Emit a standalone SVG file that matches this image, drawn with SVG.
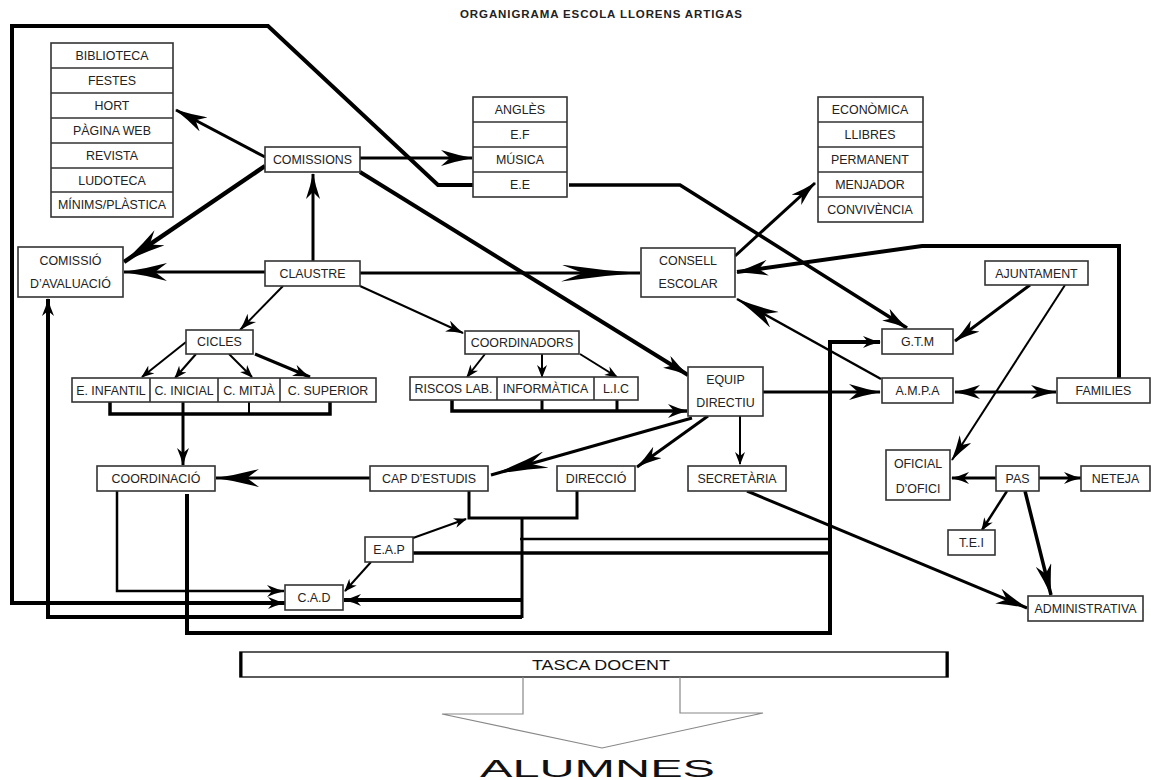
<svg xmlns="http://www.w3.org/2000/svg" width="1151" height="780" viewBox="0 0 1151 780">
<style>
.b{fill:#fff;stroke:#333;stroke-width:1.6}
.t{font-family:"Liberation Sans",Arial,sans-serif;font-size:12.4px;fill:#222;text-anchor:middle}
.c{fill:none;stroke:#000;stroke-linejoin:miter}
.w2{stroke-width:2}.w25{stroke-width:2.5}.w3{stroke-width:3}.w35{stroke-width:3.5}.w4{stroke-width:4}.w45{stroke-width:4.5}
</style>
<defs>
<marker id="m80" markerUnits="userSpaceOnUse" markerWidth="80" markerHeight="17" refX="79" refY="8.5" orient="auto"><path d="M0,0 Q40,6 80,8.5 Q40,11 0,17 L22,8.5 z"/></marker>
<marker id="m58" markerUnits="userSpaceOnUse" markerWidth="58" markerHeight="17" refX="57" refY="8.5" orient="auto"><path d="M0,0 Q29,6 58,8.5 Q29,11 0,17 L16,8.5 z"/></marker>
<marker id="m44" markerUnits="userSpaceOnUse" markerWidth="44" markerHeight="18" refX="43" refY="9" orient="auto"><path d="M0,0 Q22,6 44,9 Q22,12 0,18 L12,9 z"/></marker>
<marker id="m32" markerUnits="userSpaceOnUse" markerWidth="32" markerHeight="16" refX="31" refY="8" orient="auto"><path d="M0,0 Q16,5 32,8 Q16,11 0,16 L9,8 z"/></marker>
<marker id="m26" markerUnits="userSpaceOnUse" markerWidth="26" markerHeight="14" refX="25" refY="7" orient="auto-start-reverse"><path d="M0,0 Q13,4.5 26,7 Q13,9.5 0,14 L7,7 z"/></marker>
<marker id="m20" markerUnits="userSpaceOnUse" markerWidth="20" markerHeight="14" refX="19" refY="7" orient="auto"><path d="M0,0 Q10,4.5 20,7 Q10,9.5 0,14 L6,7 z"/></marker>
<marker id="m18" markerUnits="userSpaceOnUse" markerWidth="18" markerHeight="12" refX="17" refY="6" orient="auto"><path d="M0,0 Q9,4 18,6 Q9,8 0,12 L5,6 z"/></marker>
<marker id="m13" markerUnits="userSpaceOnUse" markerWidth="13" markerHeight="10" refX="12" refY="5" orient="auto"><path d="M0,0 L13,5 L0,10 L4,5 z"/></marker>
</defs>
<rect width="1151" height="780" fill="#fff"/>
<text x="601" y="18" style="font-family:'Liberation Sans',Arial,sans-serif;font-size:11.5px;font-weight:bold;fill:#222;text-anchor:middle" textLength="282">ORGANIGRAMA ESCOLA LLORENS ARTIGAS</text>

<g id="connectors">
<path class="c w4" d="M473,185 L438,185 L268,26 L12,26 L12,603 L285,603" marker-end="url(#m18)"/>
<path class="c w35" d="M569,185 L680,185 L907,328" marker-end="url(#m26)"/>
<path class="c w3" d="M265,157 L176,110" marker-end="url(#m32)"/>
<path class="c w45" d="M265,166 L124,262" marker-end="url(#m44)"/>
<path class="c w3" d="M360,158 L472,158" marker-end="url(#m32)"/>
<path class="c w4" d="M360,172 L688,375" marker-end="url(#m26)"/>
<path class="c w3" d="M313,261 L313,174" marker-end="url(#m26)"/>
<path class="c w3" d="M265,272 L124,272" marker-end="url(#m44)"/>
<path class="c w3" d="M360,273 L640,273" marker-end="url(#m80)"/>
<path class="c w2" d="M283,286 L240,330" marker-end="url(#m18)"/>
<path class="c w2" d="M360,286 L463,333" marker-end="url(#m18)"/>
<path class="c w2" d="M186,342 L142,377" marker-end="url(#m13)"/>
<path class="c w2" d="M196,354 L175,378" marker-end="url(#m13)"/>
<path class="c w2" d="M229,354 L252,377" marker-end="url(#m13)"/>
<path class="c w3" d="M255,354 L310,377" marker-end="url(#m18)"/>
<path class="c w35" d="M110,402 L110,414 L330,414 L330,402"/>
<path class="c w2" d="M249,402 L249,414"/>
<path class="c w3" d="M183,402 L183,465" marker-end="url(#m18)"/>
<path class="c w2" d="M485,354 L467,377" marker-end="url(#m13)"/>
<path class="c w2" d="M542,354 L542,377" marker-end="url(#m13)"/>
<path class="c w2" d="M580,354 L617,377" marker-end="url(#m13)"/>
<path class="c w35" d="M452,400 L452,411 L687,411" marker-end="url(#m20)"/>
<path class="c w3" d="M542,400 L542,411 M617,400 L617,411"/>
<path class="c w3" d="M763,392 L880,392" marker-end="url(#m32)"/>
<path class="c w2" d="M740,416 L740,464" marker-end="url(#m13)"/>
<path class="c w3" d="M708,416 L637,467" marker-end="url(#m26)"/>
<path class="c w3" d="M692,418 L491,475" marker-end="url(#m58)"/>
<path class="c w3" d="M735,256 L815,183" marker-end="url(#m26)"/>
<path class="c w25" d="M881,379 L737,299" marker-end="url(#m44)"/>
<path class="c w4" d="M1119,378 L1119,246 L922,246 L737,272" marker-end="url(#m32)"/>
<path class="c w3" d="M955,392 L1056,392" marker-start="url(#m26)" marker-end="url(#m26)"/>
<path class="c w3" d="M1030,285 L955,341" marker-end="url(#m26)"/>
<path class="c w2" d="M1065,285 L952,460" marker-end="url(#m26)"/>
<path class="c w3" d="M996,478 L952,478" marker-end="url(#m18)"/>
<path class="c w3" d="M1039,478 L1081,478" marker-end="url(#m18)"/>
<path class="c w25" d="M1007,491 L982,530" marker-end="url(#m13)"/>
<path class="c w35" d="M1025,491 L1051,595" marker-end="url(#m32)"/>
<path class="c w3" d="M747,491 L1027,608" marker-end="url(#m32)"/>
<path class="c w3" d="M370,478 L216,478" marker-end="url(#m44)"/>
<path class="c w3" d="M469,491 L469,518 L577,518 L577,491"/>
<path class="c w3" d="M522,518 L522,618"/>
<path class="c w4" d="M522,600 L344,600" marker-end="url(#m18)"/>
<path class="c w4" d="M522,617 L48,617 L48,299" marker-end="url(#m18)"/>
<path class="c w25" d="M520,539 L830,539"/>
<path class="c w35" d="M413,553 L830,553"/>
<path class="c w4" d="M187,494 L187,633 L830,633 L830,342 L880,342" marker-end="url(#m18)"/>
<path class="c w2" d="M413,538 L466,519" marker-end="url(#m13)"/>
<path class="c w2" d="M371,562 L345,591" marker-end="url(#m13)"/>
<path class="c w25" d="M117,491 L117,591 L284,591" marker-end="url(#m18)"/>
</g>

<g id="comissions-list">
<rect class="b" x="51" y="43" width="122" height="174"/>
<path d="M51,68 H173 M51,93 H173 M51,118 H173 M51,143 H173 M51,168 H173 M51,192 H173" stroke="#333" stroke-width="1.6"/>
<text class="t" x="112" y="60">BIBLIOTECA</text>
<text class="t" x="112" y="85">FESTES</text>
<text class="t" x="112" y="110">HORT</text>
<text class="t" x="112" y="135">PÀGINA WEB</text>
<text class="t" x="112" y="160">REVISTA</text>
<text class="t" x="112" y="185">LUDOTECA</text>
<text class="t" x="112" y="209">MÍNIMS/PLÀSTICA</text>
</g>
<g id="especialistes">
<rect class="b" x="473" y="97" width="94" height="100"/>
<path d="M473,122 H567 M473,147 H567 M473,172 H567" stroke="#333" stroke-width="1.6"/>
<text class="t" x="520" y="114">ANGLÈS</text>
<text class="t" x="520" y="139">E.F</text>
<text class="t" x="520" y="164">MÚSICA</text>
<text class="t" x="520" y="189">E.E</text>
</g>
<g id="consell-comissions">
<rect class="b" x="818" y="97" width="105" height="125"/>
<path d="M818,122 H923 M818,147 H923 M818,172 H923 M818,197 H923" stroke="#333" stroke-width="1.6"/>
<text class="t" x="870" y="114">ECONÒMICA</text>
<text class="t" x="870" y="139">LLIBRES</text>
<text class="t" x="870" y="164">PERMANENT</text>
<text class="t" x="870" y="189">MENJADOR</text>
<text class="t" x="870" y="214">CONVIVÈNCIA</text>
</g>
<g id="comissions"><rect class="b" x="265" y="147" width="95" height="25"/><text class="t" x="312.5" y="164">COMISSIONS</text></g>
<g id="comissio-avaluacio"><rect class="b" x="18" y="247" width="105" height="50"/><text class="t" x="70.5" y="265">COMISSIÓ</text><text class="t" x="70.5" y="288">D’AVALUACIÓ</text></g>
<g id="claustre"><rect class="b" x="265" y="261" width="95" height="25"/><text class="t" x="312.5" y="278">CLAUSTRE</text></g>
<g id="consell-escolar"><rect class="b" x="641" y="248" width="94" height="49"/><text class="t" x="688" y="265">CONSELL</text><text class="t" x="688" y="288">ESCOLAR</text></g>
<g id="cicles"><rect class="b" x="186" y="330" width="67" height="24"/><text class="t" x="219.5" y="346">CICLES</text></g>
<g id="cicles-row">
<rect class="b" x="72" y="378" width="304" height="24"/>
<path d="M150,378 V402 M218,378 V402 M280,378 V402" stroke="#333" stroke-width="1.6"/>
<text class="t" x="111" y="394.5">E. INFANTIL</text>
<text class="t" x="184" y="394.5">C. INICIAL</text>
<text class="t" x="249" y="394.5">C. MITJÀ</text>
<text class="t" x="328" y="394.5">C. SUPERIOR</text>
</g>
<g id="coordinadors"><rect class="b" x="465" y="331" width="114" height="23"/><text class="t" x="522" y="347">COORDINADORS</text></g>
<g id="coordinadors-row">
<rect class="b" x="410" y="377" width="228" height="23"/>
<path d="M497,377 V400 M594,377 V400" stroke="#333" stroke-width="1.6"/>
<text class="t" x="453.5" y="393">RISCOS LAB.</text>
<text class="t" x="545.5" y="393">INFORMÀTICA</text>
<text class="t" x="616" y="393">L.I.C</text>
</g>
<g id="equip-directiu"><rect class="b" x="688" y="367" width="75" height="49"/><text class="t" x="725.5" y="384">EQUIP</text><text class="t" x="725.5" y="407">DIRECTIU</text></g>
<g id="ajuntament"><rect class="b" x="985" y="261" width="103" height="24"/><text class="t" x="1036.5" y="277.5">AJUNTAMENT</text></g>
<g id="gtm"><rect class="b" x="882" y="329" width="71" height="25"/><text class="t" x="917.5" y="346">G.T.M</text></g>
<g id="ampa"><rect class="b" x="882" y="378" width="71" height="25"/><text class="t" x="917.5" y="395">A.M.P.A</text></g>
<g id="families"><rect class="b" x="1057" y="378" width="93" height="25"/><text class="t" x="1103.5" y="395">FAMILIES</text></g>
<g id="coordinacio"><rect class="b" x="97" y="466" width="118" height="25"/><text class="t" x="156" y="483">COORDINACIÓ</text></g>
<g id="cap-estudis"><rect class="b" x="370" y="466" width="118" height="25"/><text class="t" x="429" y="483">CAP D’ESTUDIS</text></g>
<g id="direccio"><rect class="b" x="557" y="466" width="78" height="25"/><text class="t" x="596" y="483">DIRECCIÓ</text></g>
<g id="secretaria"><rect class="b" x="688" y="466" width="98" height="25"/><text class="t" x="737" y="483">SECRETÀRIA</text></g>
<g id="oficial"><rect class="b" x="886" y="450" width="64" height="50"/><text class="t" x="918" y="468">OFICIAL</text><text class="t" x="918" y="493">D’OFICI</text></g>
<g id="pas"><rect class="b" x="996" y="466" width="43" height="25"/><text class="t" x="1017.5" y="483">PAS</text></g>
<g id="neteja"><rect class="b" x="1081" y="466" width="69" height="25"/><text class="t" x="1115.5" y="483">NETEJA</text></g>
<g id="tei"><rect class="b" x="948" y="530" width="47" height="25"/><text class="t" x="971.5" y="547">T.E.I</text></g>
<g id="administrativa"><rect class="b" x="1028" y="596" width="115" height="25"/><text class="t" x="1085.5" y="613">ADMINISTRATIVA</text></g>
<g id="eap"><rect class="b" x="365" y="537" width="48" height="25"/><text class="t" x="389" y="554">E.A.P</text></g>
<g id="cad"><rect class="b" x="285" y="585" width="58" height="25"/><text class="t" x="314" y="602">C.A.D</text></g>

<g id="tasca-docent">
<rect class="b" x="240" y="652" width="708" height="25"/>
<path d="M241,652 V677 M947,652 V677" stroke="#000" stroke-width="3"/>
<text x="601" y="670" style="font-family:'Liberation Sans',Arial,sans-serif;font-size:15px;fill:#111;text-anchor:middle" textLength="138" lengthAdjust="spacingAndGlyphs">TASCA DOCENT</text>
</g>
<g id="alumnes">
<polyline points="523,677 523,714 442,714 602,748 763,713 680,713 680,677" fill="none" stroke="#888" stroke-width="1.2"/>
<text x="480" y="777" style="font-family:'Liberation Sans',Arial,sans-serif;font-size:23px;fill:#111" textLength="235" lengthAdjust="spacingAndGlyphs">ALUMNES</text>
</g>
</svg>
